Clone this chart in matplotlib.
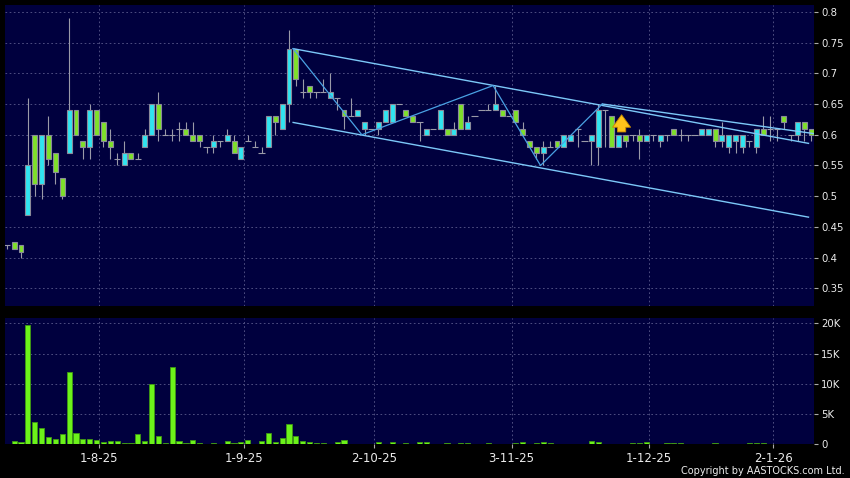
import numpy as np
import matplotlib
matplotlib.use("Agg")
import matplotlib.pyplot as plt

# daily OHLC, one entry per trading session (index = session number)
opens = [0.42, 0.425, 0.42, 0.47, 0.60, 0.52, 0.60, 0.57, 0.53, 0.57,
         0.64, 0.59, 0.58, 0.64, 0.62, 0.59, 0.56, 0.55, 0.57, 0.56,
         0.58, 0.60, 0.65, 0.60, 0.60, 0.61, 0.61, 0.60, 0.60, 0.58,
         0.58, 0.59, 0.59, 0.59, 0.56, 0.59, 0.58, 0.57, 0.58, 0.63,
         0.61, 0.65, 0.74, 0.67, 0.68, 0.67, 0.67, 0.66, 0.66, 0.64,
         0.63, 0.63, 0.61, 0.61, 0.61, 0.62, 0.62, 0.65, 0.64, 0.63,
         0.62, 0.60, 0.61, 0.61, 0.61, 0.60, 0.65, 0.61, 0.63, 0.64,
         0.64, 0.64, 0.64, 0.63, 0.64, 0.61, 0.59, 0.58, 0.57, 0.58,
         0.59, 0.58, 0.59, 0.61, 0.59, 0.59, 0.58, 0.64, 0.63, 0.58,
         0.60, 0.60, 0.60, 0.59, 0.60, 0.59, 0.60, 0.61, 0.60, 0.60,
         0.60, 0.60, 0.60, 0.61, 0.59, 0.58, 0.59, 0.58, 0.59, 0.58,
         0.61, 0.61, 0.61, 0.63, 0.60, 0.60, 0.62, 0.61]
highs = [0.42, 0.425, 0.42, 0.66, 0.60, 0.60, 0.63, 0.57, 0.53, 0.79,
         0.64, 0.59, 0.65, 0.64, 0.62, 0.61, 0.57, 0.59, 0.57, 0.57,
         0.61, 0.65, 0.67, 0.61, 0.61, 0.62, 0.62, 0.62, 0.60, 0.58,
         0.60, 0.59, 0.61, 0.60, 0.58, 0.60, 0.59, 0.58, 0.63, 0.63,
         0.65, 0.77, 0.74, 0.69, 0.68, 0.67, 0.69, 0.70, 0.66, 0.64,
         0.66, 0.64, 0.62, 0.61, 0.62, 0.64, 0.65, 0.65, 0.64, 0.63,
         0.62, 0.61, 0.61, 0.64, 0.61, 0.62, 0.65, 0.63, 0.63, 0.64,
         0.65, 0.68, 0.64, 0.63, 0.64, 0.62, 0.59, 0.58, 0.59, 0.59,
         0.59, 0.60, 0.60, 0.61, 0.59, 0.60, 0.65, 0.64, 0.63, 0.60,
         0.60, 0.60, 0.61, 0.60, 0.60, 0.60, 0.60, 0.61, 0.61, 0.60,
         0.60, 0.61, 0.61, 0.61, 0.62, 0.60, 0.60, 0.60, 0.59, 0.61,
         0.63, 0.63, 0.61, 0.63, 0.60, 0.62, 0.62, 0.61]
lows = [0.415, 0.415, 0.40, 0.47, 0.50, 0.495, 0.55, 0.52, 0.495, 0.57,
        0.60, 0.56, 0.56, 0.60, 0.58, 0.56, 0.55, 0.55, 0.56, 0.56,
        0.58, 0.60, 0.59, 0.60, 0.59, 0.59, 0.60, 0.59, 0.58, 0.57,
        0.57, 0.58, 0.59, 0.57, 0.56, 0.59, 0.58, 0.57, 0.58, 0.60,
        0.61, 0.62, 0.68, 0.66, 0.66, 0.66, 0.67, 0.66, 0.64, 0.61,
        0.63, 0.63, 0.60, 0.61, 0.60, 0.62, 0.62, 0.65, 0.63, 0.62,
        0.59, 0.60, 0.61, 0.61, 0.60, 0.60, 0.61, 0.61, 0.63, 0.64,
        0.64, 0.64, 0.63, 0.63, 0.62, 0.60, 0.58, 0.56, 0.55, 0.58,
        0.58, 0.58, 0.59, 0.58, 0.59, 0.55, 0.55, 0.58, 0.58, 0.58,
        0.58, 0.59, 0.56, 0.59, 0.59, 0.58, 0.59, 0.60, 0.59, 0.59,
        0.60, 0.60, 0.60, 0.58, 0.58, 0.57, 0.57, 0.57, 0.58, 0.57,
        0.60, 0.59, 0.59, 0.61, 0.59, 0.59, 0.59, 0.59]
closes = [0.42, 0.415, 0.41, 0.55, 0.52, 0.60, 0.56, 0.54, 0.50, 0.64,
          0.60, 0.58, 0.64, 0.60, 0.59, 0.58, 0.56, 0.57, 0.56, 0.56,
          0.60, 0.65, 0.61, 0.60, 0.60, 0.61, 0.60, 0.59, 0.59, 0.58,
          0.59, 0.59, 0.60, 0.57, 0.58, 0.59, 0.58, 0.57, 0.63, 0.62,
          0.65, 0.74, 0.69, 0.67, 0.67, 0.67, 0.67, 0.67, 0.66, 0.63,
          0.63, 0.64, 0.62, 0.61, 0.62, 0.64, 0.65, 0.65, 0.63, 0.62,
          0.62, 0.61, 0.61, 0.64, 0.60, 0.61, 0.61, 0.62, 0.63, 0.64,
          0.64, 0.65, 0.63, 0.63, 0.62, 0.60, 0.58, 0.57, 0.58, 0.58,
          0.58, 0.60, 0.60, 0.61, 0.59, 0.60, 0.64, 0.64, 0.58, 0.60,
          0.59, 0.60, 0.59, 0.60, 0.60, 0.60, 0.60, 0.60, 0.60, 0.60,
          0.60, 0.61, 0.61, 0.59, 0.60, 0.60, 0.60, 0.60, 0.59, 0.61,
          0.60, 0.61, 0.61, 0.62, 0.60, 0.62, 0.61, 0.60]
# volume in thousands of shares
volumes = [0.0, 0.5, 0.33, 19.7, 3.7, 2.7, 1.2, 0.9, 1.6, 11.9,
           1.8, 0.8, 0.8, 0.7, 0.33, 0.55, 0.55, 0.2, 0.2, 1.6,
           0.45, 10.0, 1.3, 0.2, 12.7, 0.45, 0.2, 0.7, 0.2, 0.02,
           0.15, 0.02, 0.45, 0.2, 0.33, 0.7, 0.02, 0.5, 1.9, 0.33,
           1.0, 3.4, 1.3, 0.5, 0.4, 0.15, 0.1, 0.02, 0.4, 0.6,
           0.05, 0.02, 0.02, 0.02, 0.3, 0.02, 0.3, 0.02, 0.15, 0.02,
           0.3, 0.3, 0.05, 0.05, 0.17, 0.02, 0.1, 0.1, 0.02, 0.02,
           0.17, 0.05, 0.02, 0.02, 0.17, 0.33, 0.02, 0.17, 0.4, 0.1,
           0.02, 0.02, 0.02, 0.02, 0.02, 0.5, 0.28, 0.02, 0.02, 0.02,
           0.02, 0.17, 0.17, 0.33, 0.02, 0.02, 0.1, 0.1, 0.1, 0.02,
           0.02, 0.02, 0.02, 0.17, 0.05, 0.05, 0.05, 0.05, 0.17, 0.17,
           0.17, 0.05, 0.05, 0.05, 0.05, 0.05, 0.05, 0.05]

date_idx = [13.4, 34.4, 53.4, 73.4, 93.4, 111.5]
date_labels = ["1-8-25", "1-9-25", "2-10-25", "3-11-25", "1-12-25", "2-1-26"]
price_ticks = [0.35, 0.4, 0.45, 0.5, 0.55, 0.6, 0.65, 0.7, 0.75, 0.8]
price_labels = ["0.35", "0.4", "0.45", "0.5", "0.55", "0.6", "0.65", "0.7", "0.75", "0.8"]
vol_ticks = [0, 5, 10, 15, 20]
vol_labels = ["0", "5K", "10K", "15K", "20K"]

# drawn trend lines: (index, price) pairs
zigzag_idx = [41.6, 51.6, 70.7, 77.6, 86.6]
zigzag_px = [0.74, 0.60, 0.68, 0.55, 0.65]
upper_idx, upper_px = [41.6, 116.6], [0.74, 0.586]
lower_idx, lower_px = [41.6, 116.6], [0.62, 0.466]
short_idx, short_px = [86.6, 117.3], [0.65, 0.602]
signal_idx, signal_lo, signal_hi = 89.4, 0.60, 0.637

BG = "#00003e"
GRID = "#5a5a8c"
CYAN = "#30e4f0"
GREEN = "#7fe02a"
TXT = "#ececec"

o = np.array(opens); h = np.array(highs); l = np.array(lows); c = np.array(closes)
x = np.arange(len(o))

fig = plt.figure(figsize=(8.5, 4.78), dpi=100, facecolor="black")
W, H = 850.0, 478.0
ax = fig.add_axes([5 / W, 1 - 306 / H, 809 / W, 301 / H], facecolor=BG)
axv = fig.add_axes([5 / W, 1 - 444 / H, 809 / W, 126 / H], facecolor=BG, sharex=ax)

for a in (ax, axv):
    for s in a.spines.values():
        s.set_visible(False)
    a.grid(True, color=GRID, linestyle=(0, (2, 3)), linewidth=0.6)
    a.set_axisbelow(True)
    a.yaxis.tick_right()
    a.tick_params(axis="y", colors="#aaaaaa", labelcolor=TXT, labelsize=7.3, length=3, pad=2)

# candles
ax.vlines(x, l, h, color="#9a9aa8", linewidth=0.8, zorder=2)
up = c > o
dn = c < o
flat = c == o
ax.bar(x[up], (c - o)[up], bottom=o[up], width=0.72, color=CYAN,
       edgecolor="#8a8a9a", linewidth=0.8, zorder=3)
ax.bar(x[dn], (o - c)[dn], bottom=c[dn], width=0.72, color=GREEN,
       edgecolor="#8a8a9a", linewidth=0.8, zorder=3)
ax.hlines(c[flat], x[flat] - 0.45, x[flat] + 0.45, color="#9a9aa8", linewidth=0.8, zorder=3)

# trend lines
ax.plot(upper_idx, upper_px, color="#7cc8f8", linewidth=1.0, zorder=4)
ax.plot(lower_idx, lower_px, color="#7cc8f8", linewidth=1.0, zorder=4)
ax.plot(short_idx, short_px, color="#7cc8f8", linewidth=1.0, zorder=4)
ax.plot(zigzag_idx, zigzag_px, color="#4aa2e4", linewidth=0.9, zorder=4)

# buy signal arrow
ax.annotate("", xy=(signal_idx, signal_hi), xytext=(signal_idx, signal_lo),
            arrowprops=dict(arrowstyle="simple,head_width=1.3,head_length=0.9,tail_width=0.6",
                            fc="#ffc21a", ec="#c78a00", lw=0.6), zorder=5)

ax.set_xlim(-0.33, 117.4)
ax.set_ylim(0.3215, 0.811)
ax.set_yticks(price_ticks)
ax.set_yticklabels(price_labels)
ax.tick_params(axis="x", bottom=False, labelbottom=False)

# volume
axv.bar(x, volumes, width=0.75, color="#6cf21a", edgecolor="#3f9a12", linewidth=0.6, zorder=3)
axv.set_ylim(0, 20.9)
axv.set_yticks(vol_ticks)
axv.set_yticklabels(vol_labels)
axv.set_xticks(date_idx)
axv.set_xticklabels(date_labels)
axv.tick_params(axis="x", colors="#aaaaaa", labelcolor=TXT, labelsize=8.5, length=3, pad=3)

fig.text(845 / W, 1 - 471 / H, "Copyright by AASTOCKS.com Ltd.", color=TXT,
         fontsize=7, ha="right", va="center")

fig.savefig("out.png", dpi=100, facecolor="black")
